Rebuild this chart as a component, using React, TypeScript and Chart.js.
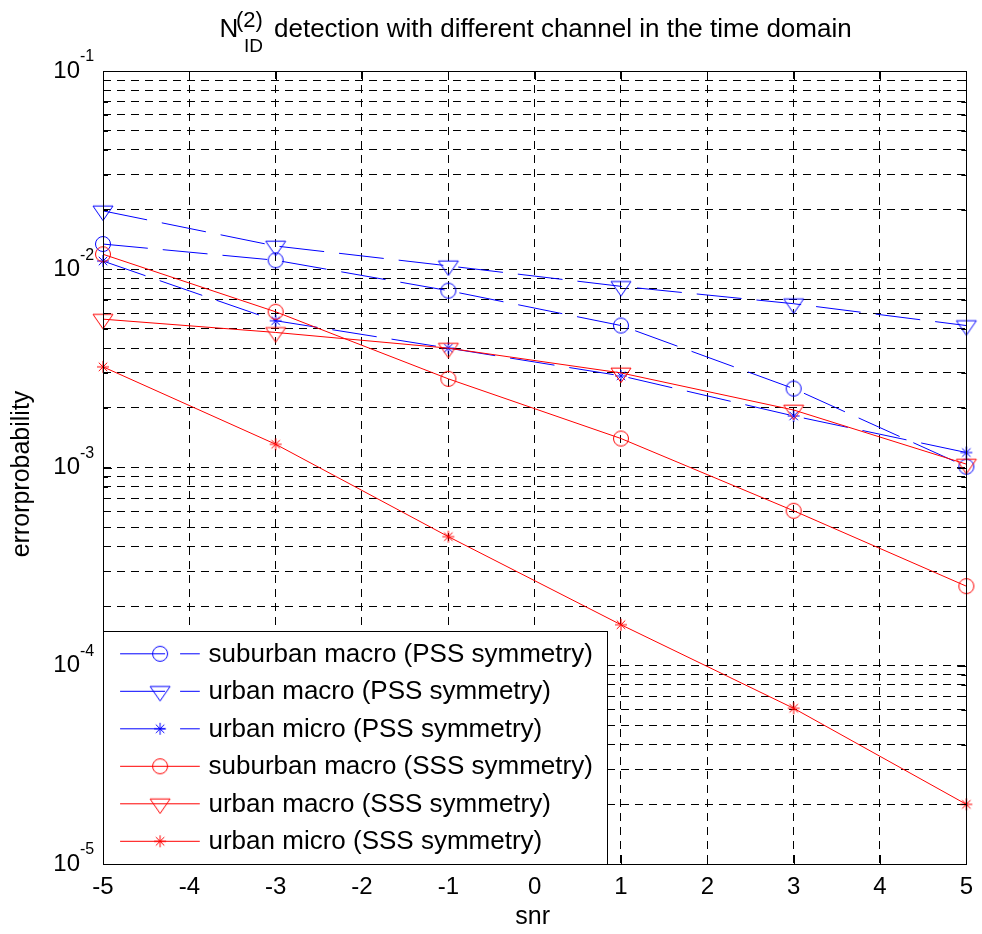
import React, { useEffect, useRef } from 'react';
import { Chart, registerables } from 'chart.js';

Chart.register(...registerables);

const FONT = '"Liberation Sans", Arial, Helvetica, sans-serif';

// ---------- data ----------
const snrValues = [-5, -3, -1, 1, 3, 5];
const xTickValues = [-5, -4, -3, -2, -1, 0, 1, 2, 3, 4, 5];
const yDecadeExponents = [-5, -4, -3, -2, -1];

const suburbanMacroPSS = [0.0134, 0.0111, 0.0078, 0.0052, 0.0025, 0.00101];
const urbanMacroPSS = [0.0197, 0.0131, 0.0104, 0.0082, 0.0067, 0.0052];
const urbanMicroPSS = [0.011, 0.0055, 0.004, 0.0029, 0.00182, 0.00119];
const suburbanMacroSSS = [0.0119, 0.0061, 0.0028, 0.0014, 0.000605, 0.000252];
const urbanMacroSSS = [0.0056, 0.0048, 0.004, 0.003, 0.00195, 0.00104];
const urbanMicroSSS = [0.00322, 0.00131, 0.000448, 0.000161, 0.000061, 0.00002];

const seriesLabels = [
  'suburban macro (PSS symmetry)',
  'urban macro (PSS symmetry)',
  'urban micro (PSS symmetry)',
  'suburban macro (SSS symmetry)',
  'urban macro (SSS symmetry)',
  'urban micro (SSS symmetry)',
];
const seriesValues = [suburbanMacroPSS, urbanMacroPSS, urbanMicroPSS, suburbanMacroSSS, urbanMacroSSS, urbanMicroSSS];
const seriesColors = ['#0000ff', '#0000ff', '#0000ff', '#ff0000', '#ff0000', '#ff0000'];
const seriesMarkers = ['circle', 'triangle', 'star', 'circle', 'triangle', 'star'];
const seriesDashed = [true, true, true, false, false, false];

const titleMain = 'N';
const titleSup = '(2)';
const titleSub = 'ID';
const titleRest = 'detection with different channel in the time domain';
const xAxisTitle = 'snr';
const yAxisTitle = 'errorprobability';

const yTickValues: number[] = [];
yDecadeExponents.forEach((e) => {
  if (e === -1) {
    yTickValues.push(0.1);
    return;
  }
  for (let k = 1; k <= 9; k++) yTickValues.push(Number((k * Math.pow(10, e)).toPrecision(12)));
});

function isDecade(v: number) {
  const l = Math.log10(v);
  return Math.abs(l - Math.round(l)) < 1e-9;
}

function makeMarker(kind: string, color: string): HTMLCanvasElement {
  const size = 26;
  const c = document.createElement('canvas');
  c.width = size;
  c.height = size;
  const ctx = c.getContext('2d')!;
  ctx.strokeStyle = color;
  ctx.lineWidth = 1;
  const cx = size / 2;
  const cy = size / 2;
  ctx.beginPath();
  if (kind === 'circle') {
    ctx.arc(cx, cy, 7.5, 0, Math.PI * 2);
  } else if (kind === 'triangle') {
    const w = 20;
    const h = 14.5;
    ctx.moveTo(cx - w / 2, cy - h / 3);
    ctx.lineTo(cx + w / 2, cy - h / 3);
    ctx.lineTo(cx, cy + (2 * h) / 3);
    ctx.closePath();
  } else {
    const r = 6;
    for (let i = 0; i < 4; i++) {
      const a = (i * Math.PI) / 4;
      ctx.moveTo(cx - r * Math.cos(a), cy - r * Math.sin(a));
      ctx.lineTo(cx + r * Math.cos(a), cy + r * Math.sin(a));
    }
  }
  ctx.stroke();
  return c;
}

const decorPlugin = {
  id: 'matlabDecor',
  afterDatasetsDraw(chart: any) {
    const { ctx, chartArea } = chart;
    const { left, right, top, bottom } = chartArea;
    const xs = chart.scales.x;
    const ys = chart.scales.y;
    ctx.save();
    ctx.strokeStyle = '#000';
    ctx.lineWidth = 1;
    ctx.setLineDash([]);
    // inner ticks
    ctx.beginPath();
    xTickValues.forEach((v) => {
      const px = Math.round(xs.getPixelForValue(v)) + 0.5;
      ctx.moveTo(px, bottom);
      ctx.lineTo(px, bottom - 9);
      ctx.moveTo(px, top);
      ctx.lineTo(px, top + 9);
    });
    yTickValues.forEach((v) => {
      const py = Math.round(ys.getPixelForValue(v)) + 0.5;
      const len = isDecade(v) ? 9 : 5;
      ctx.moveTo(left, py);
      ctx.lineTo(left + len, py);
      ctx.moveTo(right, py);
      ctx.lineTo(right - len, py);
    });
    ctx.stroke();
    // box
    ctx.strokeRect(Math.round(left) + 0.5, Math.round(top) + 0.5, Math.round(right - left), Math.round(bottom - top));
    ctx.restore();
  },
  afterDraw(chart: any) {
    const { ctx, chartArea } = chart;
    const { left, right, top, bottom } = chartArea;
    const ys = chart.scales.y;
    ctx.save();
    ctx.fillStyle = '#000';
    // y exponents
    ctx.font = `16px ${FONT}`;
    ctx.textAlign = 'left';
    ctx.textBaseline = 'middle';
    yDecadeExponents.forEach((e) => {
      const py = ys.getPixelForValue(Math.pow(10, e));
      ctx.fillText(String(e), left - 23, py - 14);
    });
    // title
    ctx.textBaseline = 'alphabetic';
    ctx.font = `26px ${FONT}`;
    ctx.fillText(titleMain, 219.5, 37);
    ctx.font = `22px ${FONT}`;
    ctx.fillText(titleSup, 236, 27);
    ctx.font = `19px ${FONT}`;
    ctx.fillText(titleSub, 244, 52);
    ctx.font = `26px ${FONT}`;
    ctx.fillText(titleRest, 274, 37);
    // axis titles
    ctx.font = `25px ${FONT}`;
    ctx.textAlign = 'center';
    ctx.textBaseline = 'middle';
    ctx.fillText(xAxisTitle, (left + right) / 2 - 2, 917.5);
    ctx.save();
    ctx.translate(22, 474);
    ctx.rotate(-Math.PI / 2);
    ctx.fillText(yAxisTitle, 0, 0);
    ctx.restore();

    // legend
    const bw = 504;
    const bh = 233;
    const bx = Math.round(left) + 0.5;
    const by = Math.round(bottom) - bh + 0.5;
    ctx.fillStyle = '#fff';
    ctx.fillRect(bx, by, bw, bh);
    ctx.strokeStyle = '#000';
    ctx.lineWidth = 1;
    ctx.setLineDash([]);
    ctx.strokeRect(bx, by, bw, bh);
    chart.data.datasets.forEach((ds: any, i: number) => {
      const y = by + 22.3 + i * 37.5;
      ctx.save();
      ctx.strokeStyle = ds.borderColor;
      ctx.lineWidth = 1;
      ctx.setLineDash(ds.borderDash || []);
      ctx.beginPath();
      ctx.moveTo(bx + 16.6, y);
      ctx.lineTo(bx + 96.3, y);
      ctx.stroke();
      ctx.restore();
      const m = ds.pointStyle as HTMLCanvasElement;
      ctx.drawImage(m, bx + 56.6 - m.width / 2, y - m.height / 2);
      ctx.fillStyle = '#000';
      ctx.font = `26px ${FONT}`;
      ctx.textAlign = 'left';
      ctx.textBaseline = 'middle';
      ctx.fillText(ds.label, bx + 105, y + 1);
    });
    ctx.restore();
  },
};

export default function App() {
  const canvasRef = useRef<HTMLCanvasElement | null>(null);

  useEffect(() => {
    const canvas = canvasRef.current;
    if (!canvas) return;
    const datasets = seriesValues.map((vals, i) => ({
      label: seriesLabels[i],
      data: snrValues.map((x, j) => ({ x, y: vals[j] })),
      borderColor: seriesColors[i],
      backgroundColor: 'transparent',
      borderWidth: 1,
      borderDash: seriesDashed[i] ? [45, 15] : [],
      pointStyle: makeMarker(seriesMarkers[i], seriesColors[i]),
      pointRadius: 8,
      pointHoverRadius: 8,
      tension: 0,
      fill: false,
      clip: false,
      order: seriesValues.length - i,
    }));

    const chart = new Chart(canvas, {
      type: 'line',
      data: { datasets },
      options: {
        responsive: false,
        animation: false,
        events: [],
        layout: { padding: { top: 71, right: 10, left: 0, bottom: 0 } },
        plugins: {
          legend: { display: false },
          title: { display: false },
          tooltip: { enabled: false },
        },
        scales: {
          x: {
            type: 'linear',
            min: -5,
            max: 5,
            afterBuildTicks: (axis: any) => {
              axis.ticks = xTickValues.map((v) => ({ value: v }));
            },
            afterFit: (scale: any) => {
              scale.height = 70;
            },
            ticks: {
              autoSkip: false,
              maxRotation: 0,
              padding: 9,
              color: '#000',
              font: { family: FONT, size: 24 },
              callback: (v: any) => String(v),
            },
            grid: { color: '#000', lineWidth: 1, drawTicks: false },
            border: { display: false, dash: [8, 6] },
          },
          y: {
            type: 'logarithmic',
            min: 1e-5,
            max: 1e-1,
            afterBuildTicks: (axis: any) => {
              axis.ticks = yTickValues.map((v) => ({ value: v }));
            },
            afterFit: (scale: any) => {
              scale.width = 103;
            },
            ticks: {
              autoSkip: false,
              padding: 23,
              color: '#000',
              font: { family: FONT, size: 24 },
              callback: (v: any) => (isDecade(Number(v)) ? '10' : ''),
            },
            grid: { color: '#000', lineWidth: 1, drawTicks: false },
            border: { display: false, dash: [8, 6] },
          },
        },
      },
      plugins: [decorPlugin],
    });
    return () => chart.destroy();
  }, []);

  return (
    <canvas
      ref={canvasRef}
      width={982}
      height={934}
      style={{ position: 'absolute', left: 0, top: 0, width: 982, height: 934, display: 'block' }}
    />
  );
}
